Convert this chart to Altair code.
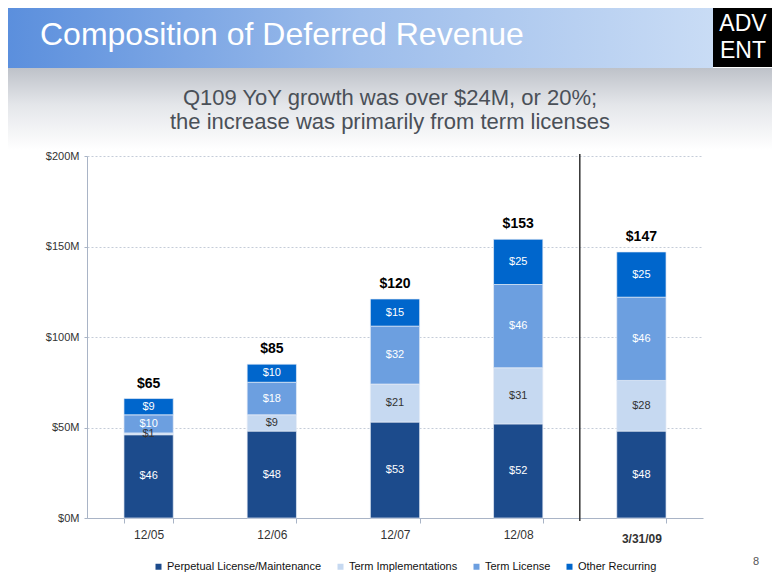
import altair as alt
import pandas as pd

# ---- data ----
cats = ['12/05', '12/06', '12/07', '12/08', '3/31/09']
series = ['Perpetual License/Maintenance', 'Term Implementations', 'Term License', 'Other Recurring']
perpetual = [46, 48, 53, 52, 48]
term_impl = [1, 9, 21, 31, 28]
term_lic = [10, 18, 32, 46, 46]
other = [9, 10, 15, 25, 25]
totals = [65, 85, 120, 153, 147]
colors = ['#1C4B8C', '#C6D9F1', '#6C9FE0', '#0066CC']

title_text = 'Composition of Deferred Revenue'
subtitle_lines = ['Q109 YoY growth was over $24M, or 20%;',
                  'the increase was primarily from term licenses']

W, H = 616, 362
FONT = 'Liberation Sans, Arial, sans-serif'

rows = []
for i, c in enumerate(cats):
    for j, (s, vals) in enumerate(zip(series, [perpetual, term_impl, term_lic, other])):
        rows.append({'cat': c, 'series': s, 'value': vals[i], 'order': j})
df = pd.DataFrame(rows)
tot_df = pd.DataFrame({'cat': cats, 'total': totals, 'stacked': [a + b + c + d for a, b, c, d in zip(perpetual, term_impl, term_lic, other)]})
one = pd.DataFrame({'a': [0]})

xscale = alt.Scale(domain=cats, paddingInner=0.6, paddingOuter=0.3)
yscale = alt.Scale(domain=[0, 200])

base = alt.Chart(df).transform_stack(
    stack='value', as_=['y0', 'y1'], groupby=['cat'], sort=[alt.SortField('order', order='ascending')]
).transform_calculate(mid='(datum.y0 + datum.y1) / 2')

bars = base.mark_bar(stroke='#E6EDF7', strokeWidth=0.7).encode(
    x=alt.X('cat:N', scale=xscale, sort=cats, title=None,
            axis=alt.Axis(labelFont=FONT, labelFontSize=12, labelColor='#333333', labelAngle=0,
                          labelFontWeight=alt.ExprRef("datum.value == '3/31/09' ? 'bold' : 'normal'"),
                          labelPadding=alt.ExprRef("datum.value == '3/31/09' ? 10 : 6"),
                          tickBand='extent', tickSize=5, tickColor='#A9B4C6',
                          domainColor='#A9B4C6', grid=False)),
    y=alt.Y('y0:Q', scale=yscale, title=None,
            axis=alt.Axis(values=[0, 50, 100, 150, 200], labelExpr="'$' + datum.value + 'M'",
                          labelFont=FONT, labelFontSize=11, labelColor='#333333', labelPadding=5,
                          tickSize=3, tickColor='#A9B4C6', domainColor='#A9B4C6',
                          grid=True, gridColor='#C5CCD8', gridDash=[2, 2])),
    y2='y1:Q',
    color=alt.Color('series:N', scale=alt.Scale(domain=series, range=colors), title=None,
                    legend=alt.Legend(orient='none', legendX=66, legendY=405, direction='horizontal',
                                      symbolType='square', symbolSize=36, symbolStrokeWidth=0,
                                      labelFont=FONT, labelFontSize=11, labelColor='#111111',
                                      columnPadding=13, labelOffset=3, padding=0)),
)

seg_labels = base.mark_text(font=FONT, fontSize=11).encode(
    x=alt.X('cat:N', scale=xscale, sort=cats),
    y=alt.Y('mid:Q', scale=yscale),
    text=alt.Text('label:N'),
    color=alt.condition("datum.series == 'Term Implementations' || datum.value < 3",
                        alt.value('#333333'), alt.value('white')),
).transform_calculate(label="'$' + datum.value")

tot_labels = alt.Chart(tot_df).transform_calculate(label="'$' + datum.total").mark_text(
    font=FONT, fontSize=14, fontWeight='bold', baseline='bottom', dy=-8, color='black'
).encode(
    x=alt.X('cat:N', scale=xscale, sort=cats),
    y=alt.Y('stacked:Q', scale=yscale),
    text='label:N',
)

sep = alt.Chart(one).mark_rule(color='#333333', strokeWidth=1.5).encode(
    x=alt.value(W * 4 / 5), y=alt.value(-2), y2=alt.value(H + 3)
)

# ---- decorations (slide header) ----
header = alt.Chart(one).mark_rect(
    fill=alt.Gradient(gradient='linear', x1=0, y1=0, x2=1, y2=0,
                      stops=[alt.GradientStop(color='#5B8FDD', offset=0),
                             alt.GradientStop(color='#9DBDEB', offset=0.5),
                             alt.GradientStop(color='#C9DCF5', offset=1)])
).encode(x=alt.value(-79), x2=alt.value(626), y=alt.value(-148), y2=alt.value(-88))

shade = alt.Chart(one).mark_rect(
    fill=alt.Gradient(gradient='linear', x1=0, y1=0, x2=0, y2=1,
                      stops=[alt.GradientStop(color='#BEC2C9', offset=0),
                             alt.GradientStop(color='#E4E6EA', offset=0.45),
                             alt.GradientStop(color='#FFFFFF', offset=1)])
).encode(x=alt.value(-79), x2=alt.value(685), y=alt.value(-88), y2=alt.value(-6))

logo_box = alt.Chart(one).mark_rect(color='black').encode(
    x=alt.value(626), x2=alt.value(685), y=alt.value(-148), y2=alt.value(-89))
LOGO_FONT = 'DejaVu Sans ExtraLight, Liberation Sans Narrow, sans-serif'
logo1 = alt.Chart(one).mark_text(text='ADV', font=LOGO_FONT, fontSize=23,
                                 color='white', align='center', baseline='alphabetic').encode(
    x=alt.value(656), y=alt.value(-125))
logo2 = alt.Chart(one).mark_text(text='ENT', font=LOGO_FONT, fontSize=23,
                                 color='white', align='center', baseline='alphabetic').encode(
    x=alt.value(656), y=alt.value(-98))

title = alt.Chart(one).mark_text(text=title_text, font=FONT, fontSize=32, color='white',
                                 align='left', baseline='alphabetic').encode(
    x=alt.value(-47), y=alt.value(-111))
sub1 = alt.Chart(one).mark_text(text=subtitle_lines[0], font=FONT, fontSize=22, color='#4A5058',
                                align='center', baseline='alphabetic').encode(
    x=alt.value(303), y=alt.value(-51))
sub2 = alt.Chart(one).mark_text(text=subtitle_lines[1], font=FONT, fontSize=22, color='#4A5058',
                                align='center', baseline='alphabetic').encode(
    x=alt.value(303), y=alt.value(-27))
page_no = alt.Chart(one).mark_text(text='8', font=FONT, fontSize=11, color='#555555',
                                   align='center').encode(x=alt.value(669), y=alt.value(406))

chart = alt.layer(
    header, shade, logo_box, logo1, logo2, title, sub1, sub2,
    bars, seg_labels, tot_labels, sep, page_no
).properties(
    width=W, height=H,
    autosize=alt.AutoSizeParams(type='none'),
    padding={'left': 79, 'top': 148, 'right': 69, 'bottom': 59},
    background='white',
).configure_view(stroke=None)

chart.save('out.html', embed_options={'renderer': 'svg', 'actions': False})
